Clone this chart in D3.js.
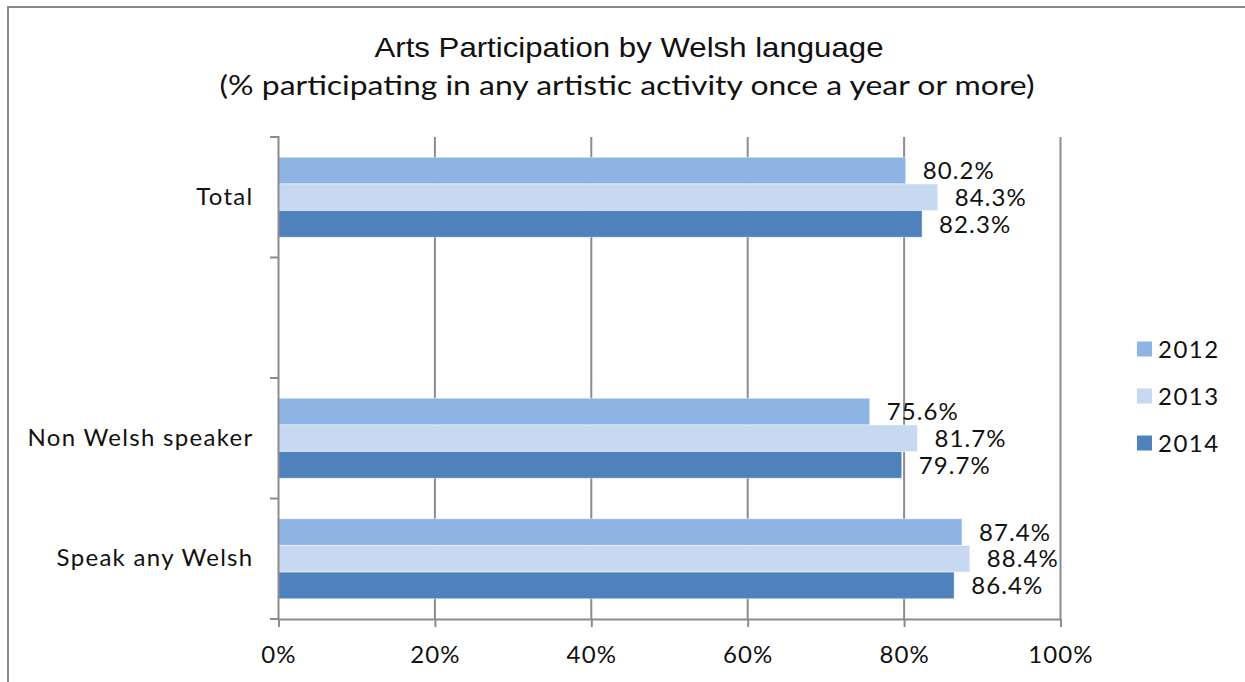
<!DOCTYPE html>
<html>
<head>
<meta charset="utf-8">
<script src="https://cdn.jsdelivr.net/npm/d3@7"></script>
<style>
  html, body { margin: 0; padding: 0; background: #fff; }
  svg { display: block; }
  text { font-family: Lato, "Open Sans", "DejaVu Sans", sans-serif; fill: #111; }
</style>
</head>
<body>
<svg id="chart" width="1245" height="682"></svg>
<script>
const categories = ["Total", "", "Non Welsh speaker", "Speak any Welsh"];
const seriesNames = ["2012", "2013", "2014"];
const values2012 = [80.2, null, 75.6, 87.4];
const values2013 = [84.3, null, 81.7, 88.4];
const values2014 = [82.3, null, 79.7, 86.4];
const xTicks = [0, 20, 40, 60, 80, 100];
const colors = ["#8EB4E3", "#C6D9F1", "#4F81BD"];
const titleText = "Arts Participation by Welsh language";
const subtitleText = "(% participating in any artistic activity once a year or more)";

const seriesValues = [values2012, values2013, values2014];

const svg = d3.select("#chart");

// outer frame
svg.append("rect")
  .attr("x", 8).attr("y", 7).attr("width", 1260).attr("height", 700)
  .attr("fill", "none").attr("stroke", "#8c8c8c").attr("stroke-width", 2);

// title
svg.append("text")
  .attr("x", 629).attr("y", 57).attr("text-anchor", "middle")
  .attr("font-size", 28).attr("textLength", 509).attr("lengthAdjust", "spacingAndGlyphs")
  .style("font-family", "'Liberation Sans Narrow', 'Liberation Sans', Arial, sans-serif")
  .text(titleText);
svg.append("text")
  .attr("x", 627).attr("y", 95).attr("text-anchor", "middle")
  .attr("font-size", 27)
  .attr("textLength", 815).attr("lengthAdjust", "spacingAndGlyphs")
  .text(subtitleText);

const x = d3.scaleLinear().domain([0, 100]).range([278.5, 1060.5]);
const y0 = d3.scaleBand().domain(categories).range([137, 619]).padding(0);
const y1 = d3.scaleBand().domain(seriesNames).range([0, y0.bandwidth()])
  .paddingInner(0).paddingOuter(0.76);

// gridlines
svg.append("g").selectAll("line")
  .data(xTicks.filter(d => d > 0))
  .join("line")
  .attr("x1", d => x(d)).attr("x2", d => x(d))
  .attr("y1", 137).attr("y2", 619)
  .attr("stroke", "#8c8c8c").attr("stroke-width", 2);

// bars
const data = [];
categories.forEach((c, i) => {
  seriesNames.forEach((s, j) => {
    const v = seriesValues[j][i];
    if (v != null) data.push({ cat: c, s: s, j: j, v: v });
  });
});

const gBars = svg.append("g");
gBars.selectAll("rect")
  .data(data)
  .join("rect")
  .attr("x", x(0))
  .attr("y", d => y0(d.cat) + y1(d.s))
  .attr("width", d => x(d.v) - x(0))
  .attr("height", y1.bandwidth())
  .attr("fill", d => colors[d.j])
  .attr("stroke", "rgba(255,255,255,0.45)").attr("stroke-width", 1);

// data labels
gBars.selectAll("text")
  .data(data)
  .join("text")
  .attr("x", d => x(d.v) + 17)
  .attr("y", d => y0(d.cat) + y1(d.s) + y1.bandwidth() / 2)
  .attr("dy", "0.36em")
  .attr("font-size", 24).attr("letter-spacing", 1.1)
  .text(d => d.v.toFixed(1) + "%");

// x axis
const xAxis = svg.append("g")
  .attr("transform", "translate(0,619)")
  .call(d3.axisBottom(x).tickValues(xTicks).tickFormat(d => d + "%").tickSize(8).tickSizeOuter(0));
xAxis.select(".domain").attr("stroke", "#8c8c8c").attr("stroke-width", 2);
xAxis.selectAll(".tick line").attr("stroke", "#8c8c8c").attr("stroke-width", 2);
xAxis.selectAll(".tick text").attr("font-size", 24).attr("dy", 0).attr("y", 44)
  .attr("letter-spacing", 1.1)
  .style("font-family", "Lato, 'Open Sans', sans-serif").attr("fill", "#111");

// y axis (labels at band centres, ticks at band boundaries)
const yAxis = svg.append("g")
  .attr("transform", "translate(278.5,0)")
  .call(d3.axisLeft(y0).tickSize(0).tickPadding(25));
yAxis.select(".domain").remove();
yAxis.selectAll(".tick text").attr("font-size", 24).attr("letter-spacing", 1.3)
  .style("font-family", "Lato, 'Open Sans', sans-serif").attr("fill", "#111");

const boundaries = categories.map(c => y0(c)).concat([y0(categories[categories.length - 1]) + y0.bandwidth()]);
svg.append("g").selectAll("line")
  .data(boundaries)
  .join("line")
  .attr("x1", 270).attr("x2", 278.5)
  .attr("y1", d => d).attr("y2", d => d)
  .attr("stroke", "#8c8c8c").attr("stroke-width", 2);
svg.append("line")
  .attr("x1", 278.5).attr("x2", 278.5).attr("y1", 136).attr("y2", 620)
  .attr("stroke", "#8c8c8c").attr("stroke-width", 2);

// legend
const legend = svg.append("g").attr("transform", "translate(1137,349)");
const items = legend.selectAll("g").data(seriesNames).join("g")
  .attr("transform", (d, i) => `translate(0,${i * 47})`);
items.append("rect").attr("x", 0).attr("y", -7.5).attr("width", 15).attr("height", 15)
  .attr("fill", (d, i) => colors[i]);
items.append("text").attr("x", 21).attr("y", 0).attr("dy", "0.36em")
  .attr("font-size", 24).attr("letter-spacing", 1.5).text(d => d);
</script>
</body>
</html>
